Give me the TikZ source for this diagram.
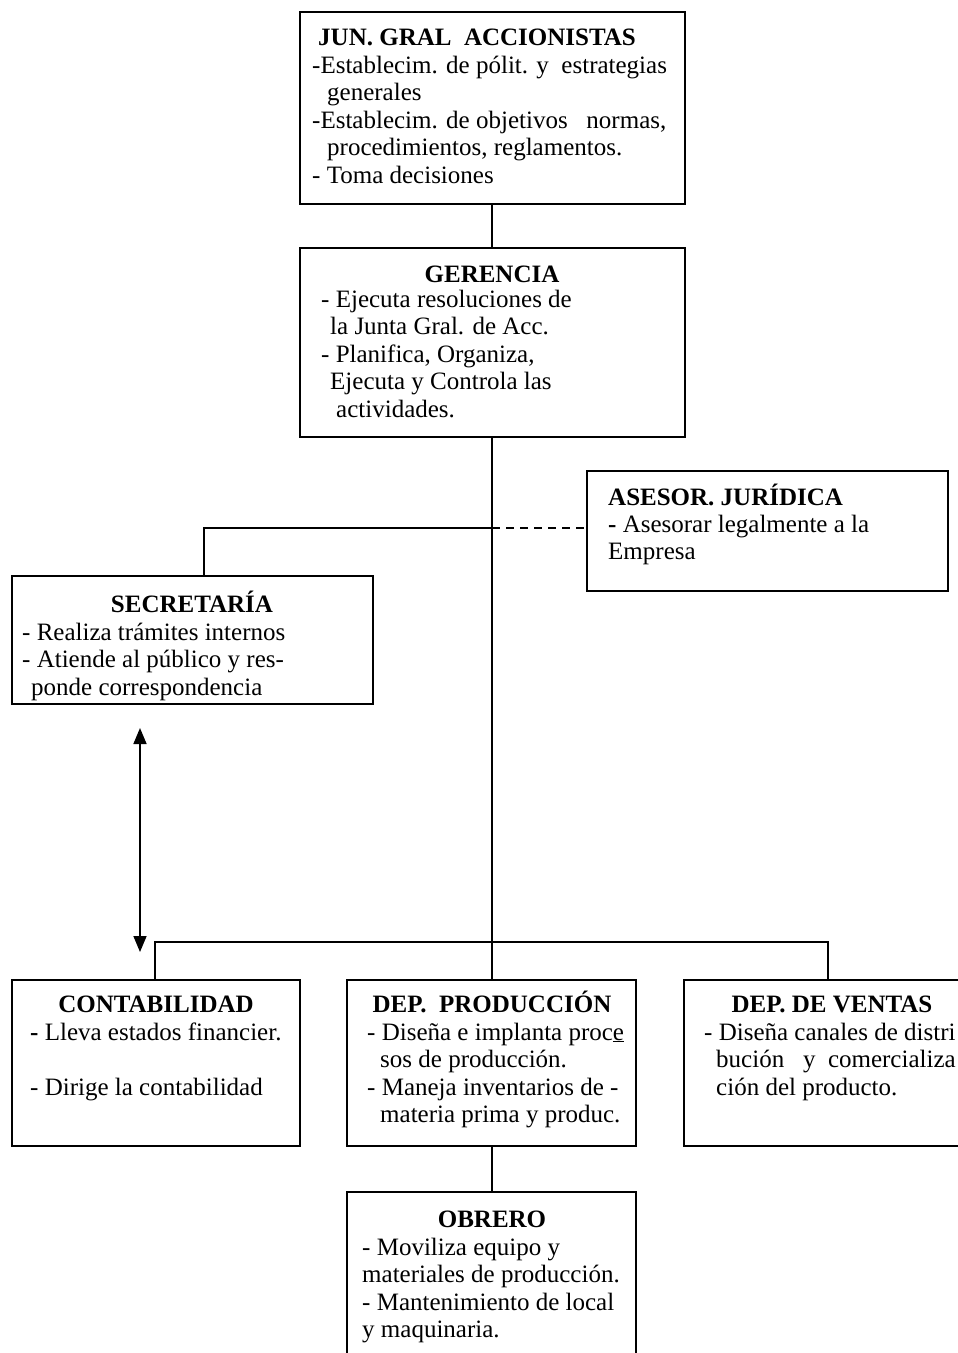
\documentclass[tikz,border=0pt]{standalone}
\usepackage{fontspec}
\setmainfont{Liberation Serif}
\usetikzlibrary{arrows.meta}
\newcommand\lns[1]{\vtop{\baselineskip=27.5pt\lineskiplimit=-20pt\halign{##\hfil\cr#1\crcr}}}
\tikzset{
  box/.style={draw, line width=2pt, inner sep=0pt, outer sep=0pt, anchor=north west},
  txt/.style={anchor=base west, inner sep=0pt, font=\fontsize{25}{27.5}\selectfont},
  ttl/.style={anchor=base, inner sep=0pt, font=\fontsize{25}{27.5}\selectfont\bfseries},
  conn/.style={line width=1.6pt},
  dsh/.style={line width=1.6pt, dash pattern=on 8pt off 6pt},
  dbl/.style={line width=1.6pt, {Triangle[length=16pt,width=13pt]}-{Triangle[length=16pt,width=13pt]}}
}
\begin{document}
\begin{tikzpicture}[x=1pt,y=-1pt]
\useasboundingbox (0,0) rectangle (958,1353);
\clip (0,0) rectangle (958,1353);
% boxes
\node[box, minimum width=385pt, minimum height=192pt] (jun) at (300,12) {};
\node[box, minimum width=385pt, minimum height=189pt] (ger) at (300,248) {};
\node[box, minimum width=361pt, minimum height=120pt] (ase) at (587,471) {};
\node[box, minimum width=361pt, minimum height=128pt] (sec) at (12,576) {};
\node[box, minimum width=288pt, minimum height=166pt] (con) at (12,980) {};
\node[box, minimum width=289pt, minimum height=166pt] (pro) at (347,980) {};
\node[box, minimum width=296pt, minimum height=166pt] (ven) at (684,980) {};
\node[box, minimum width=289pt, minimum height=200pt] (obr) at (347,1192) {};
% texts
\node[ttl, anchor=base west] (junt) at (318,45) {JUN. GRAL\ \ ACCIONISTAS};
\node[txt] (junb) at (312,73) {\lns{-Establecim. de pólit. y\ \ estrategias\cr
\hspace*{15pt}generales\cr
-Establecim. de objetivos\ \ \ normas,\cr
\hspace*{15pt}procedimientos, reglamentos.\cr
- Toma decisiones}};
\node[ttl] (gert) at (492,282) {GERENCIA};
\node[txt] (gerb) at (321,307) {\lns{- Ejecuta resoluciones de\cr
\hspace*{9pt}la Junta Gral. de Acc.\cr
- Planifica, Organiza,\cr
\hspace*{9pt}Ejecuta y Controla las\cr
\hspace*{15pt}actividades.}};
\node[ttl, anchor=base west] (aset) at (608,505) {ASESOR. JURÍDICA};
\node[txt] (aseb) at (608,532) {\lns{\textbf{-} Asesorar legalmente a la\cr
Empresa}};
\node[ttl] (sect) at (192,612) {SECRETARÍA};
\node[txt] (secb) at (22,640) {\lns{- Realiza trámites internos\cr
- Atiende al público y res-\cr
\hspace*{9pt}ponde correspondencia}};
\node[ttl] (cont) at (156,1012) {CONTABILIDAD};
\node[txt] (conb) at (30,1040) {\lns{\textbf{-} Lleva estados financier.\cr
\cr
- Dirige la contabilidad}};
\node[ttl] (prot) at (492,1012) {DEP.\ \ PRODUCCIÓN};
\node[txt] (prob) at (367,1040) {\lns{- Diseña e implanta proc\underline{e}\cr
\hspace*{13pt}sos de producción.\cr
- Maneja inventarios de -\cr
\hspace*{13pt}materia prima y produc.}};
\node[ttl] (vent) at (832,1012) {DEP. DE VENTAS};
\node[txt] (venb) at (704,1040) {\lns{- Diseña canales de distri\cr
\hspace*{12pt}bución\ \ \ y\ \ comercializa\cr
\hspace*{12pt}ción del producto.}};
\node[ttl] (obrt) at (492,1227) {OBRERO};
\node[txt] (obrb) at (362,1255) {\lns{- Moviliza equipo y\cr
materiales de producción.\cr
- Mantenimiento de local\cr
y maquinaria.}};
% connectors
\coordinate (gs) at (492,437);
\coordinate (split) at (492,528);
\coordinate (busc) at (492,942);
\coordinate (busl) at (155,942);
\coordinate (busr) at (828,942);
\coordinate (secup) at (204,528);
\coordinate (arrtop) at (140,728);
\coordinate (arrbot) at (140,952);
\draw[conn] (jun.south -| gs) -- (ger.north -| gs);
\draw[conn] (gs) -- (pro.north -| gs);
\draw[conn] (split) -- (secup) -- (sec.north -| secup);
\draw[dsh] (split) -- (ase.west |- split);
\draw[conn] (busl |- con.north) -- (busl) -- (busr) -- (busr |- ven.north);
\draw[conn] (pro.south -| gs) -- (obr.north -| gs);
\draw[dbl] (arrtop) -- (arrbot);
\end{tikzpicture}
\end{document}
